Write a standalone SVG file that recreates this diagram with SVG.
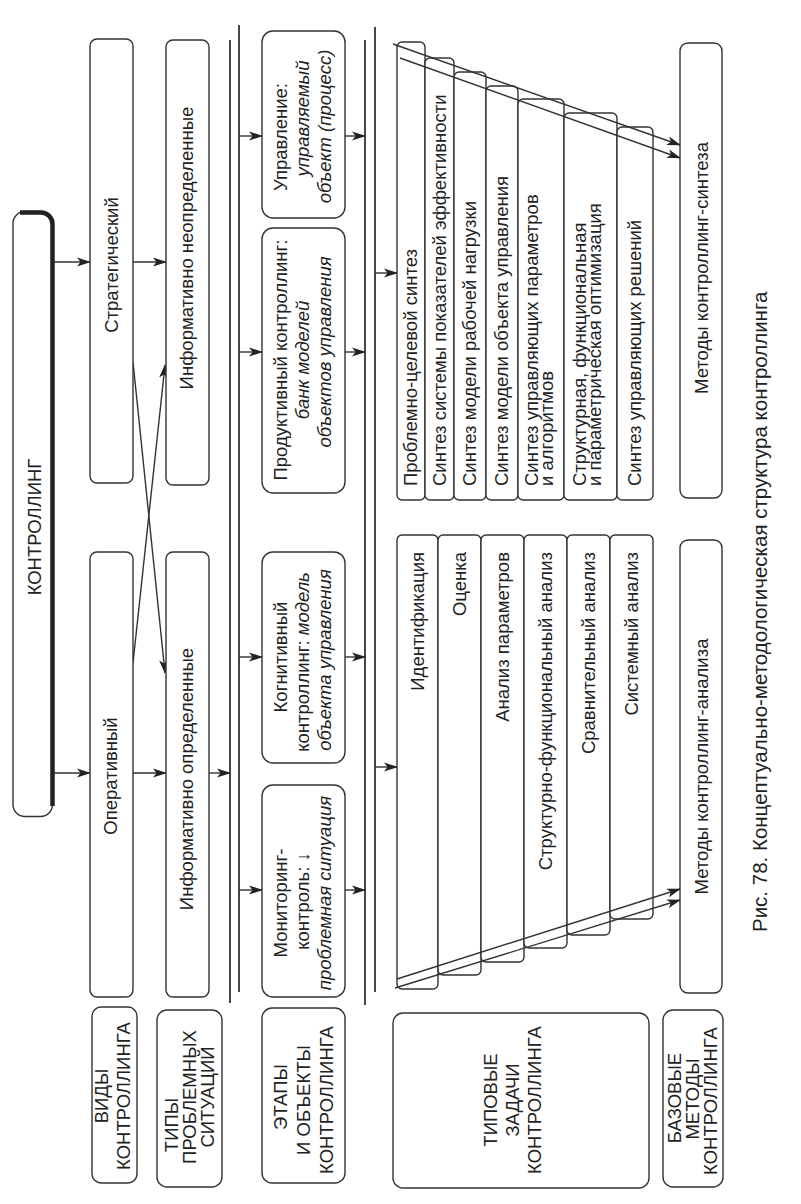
<svg xmlns="http://www.w3.org/2000/svg" width="801" height="1204" viewBox="0 0 801 1204">
<style>
.b{fill:#fff;stroke:#333;stroke-width:1.4}
.t{font-family:"Liberation Sans",Arial,sans-serif;font-size:18.5px;fill:#222}
.i{font-style:italic}
.c{text-anchor:middle}
.e{text-anchor:end}
.ln{stroke:#333;stroke-width:1.4;fill:none}
.dl{stroke:#333;stroke-width:1.8;fill:none}
.cap{font-family:"Liberation Sans",Arial,sans-serif;font-size:20.5px;fill:#222}
</style>
<defs>
<marker id="ah" viewBox="0 0 14 10" refX="13" refY="5" markerWidth="14" markerHeight="10" markerUnits="userSpaceOnUse" orient="auto"><path d="M0,0.5 L14,5 L0,9.5 L3.5,5 z" fill="#222"/></marker>
</defs>
<rect width="801" height="1204" fill="#fff"/>

<g id="connectors">
<line class="dl" x1="230" y1="40" x2="230" y2="1003"/>
<line class="dl" x1="239" y1="25" x2="239" y2="992"/>
<line class="dl" x1="365" y1="40" x2="365" y2="1005"/>
<line class="dl" x1="375" y1="27" x2="375" y2="992"/>
<g class="ln" marker-end="url(#ah)">
<line x1="54" y1="262" x2="90" y2="262"/>
<line x1="54" y1="773" x2="90" y2="773"/>
<line x1="133" y1="262" x2="166" y2="262"/>
<line x1="133" y1="773" x2="166" y2="773"/>
<line x1="133" y1="663" x2="165" y2="365"/>
<line x1="133" y1="362" x2="165" y2="673"/>
<line x1="209" y1="773" x2="230" y2="773"/>
<line x1="239" y1="136" x2="262" y2="136"/>
<line x1="239" y1="352" x2="262" y2="352"/>
<line x1="239" y1="657" x2="262" y2="657"/>
<line x1="239" y1="890" x2="262" y2="890"/>
<line x1="345" y1="136" x2="365" y2="136"/>
<line x1="345" y1="352" x2="365" y2="352"/>
<line x1="345" y1="657" x2="365" y2="657"/>
<line x1="345" y1="890" x2="365" y2="890"/>
<line x1="375" y1="273" x2="397" y2="273"/>
<line x1="375" y1="767" x2="397" y2="767"/>
</g>
</g>

<g id="kontrolling">
<rect class="b" x="13" y="211.5" width="39.5" height="605" rx="12"/>
<path d="M20,212.5 H41 A11.5,11.5 0 0 1 52.5,224 V806" fill="none" stroke="#222" stroke-width="4.5"/>
<text class="t c" x="40.5" y="527" transform="rotate(-90 40.5 527)">КОНТРОЛЛИНГ</text>
</g>

<g id="strategic">
<rect class="b" x="90" y="39" width="43" height="444" rx="7"/>
<text class="t c" x="118" y="265" transform="rotate(-90 118 265)">Стратегический</text>
</g>
<g id="operative">
<rect class="b" x="90" y="552" width="43" height="445" rx="7"/>
<text class="t c" x="117" y="776" transform="rotate(-90 117 776)">Оперативный</text>
</g>
<g id="info-uncertain">
<rect class="b" x="166" y="40" width="43" height="445" rx="7"/>
<text class="t c" x="193" y="248" transform="rotate(-90 193 248)">Информативно неопределенные</text>
</g>
<g id="info-certain">
<rect class="b" x="166" y="552" width="43" height="445" rx="7"/>
<text class="t c" x="193" y="779" transform="rotate(-90 193 779)">Информативно определенные</text>
</g>

<g id="stage-control">
<rect class="b" x="262" y="31" width="83" height="187" rx="11"/>
<text class="t c" x="287" y="137" transform="rotate(-90 287 137)">Управление:</text>
<text class="t c i" x="309" y="118.5" transform="rotate(-90 309 118.5)">управляемый</text>
<text class="t c i" x="331" y="126.5" transform="rotate(-90 331 126.5)">объект (процесс)</text>
</g>
<g id="stage-productive">
<rect class="b" x="262" y="228" width="83" height="265" rx="11"/>
<text class="t c" x="287" y="360" transform="rotate(-90 287 360)">Продуктивный контроллинг:</text>
<text class="t c i" x="309" y="360" transform="rotate(-90 309 360)">банк моделей</text>
<text class="t c i" x="331" y="352" transform="rotate(-90 331 352)">объектов управления</text>
</g>
<g id="stage-cognitive">
<rect class="b" x="262" y="552" width="83" height="211" rx="11"/>
<text class="t c" x="287" y="657" transform="rotate(-90 287 657)">Когнитивный</text>
<text class="t c" x="309" y="662" transform="rotate(-90 309 662)">контроллинг: <tspan class="i">модель</tspan></text>
<text class="t c i" x="331" y="660" transform="rotate(-90 331 660)">объекта управления</text>
</g>
<g id="stage-monitoring">
<rect class="b" x="262" y="785" width="83" height="212" rx="11"/>
<text class="t c" x="287" y="903" transform="rotate(-90 287 903)">Мониторинг-</text>
<text class="t c" x="309" y="901" transform="rotate(-90 309 901)">контроль: ↓</text>
<text class="t c i" x="331" y="893" transform="rotate(-90 331 893)">проблемная ситуация</text>
</g>

<g id="synthesis-tasks">
<g id="syn1"><rect class="b" x="397" y="42" width="28" height="458" rx="5"/>
<text class="t" x="417" y="486" transform="rotate(-90 417 486)">Проблемно-целевой синтез</text></g>
<g id="syn2"><rect class="b" x="425" y="58" width="29" height="442" rx="5"/>
<text class="t" x="446" y="486" transform="rotate(-90 446 486)">Синтез системы показателей эффективности</text></g>
<g id="syn3"><rect class="b" x="454" y="72" width="32" height="428" rx="5"/>
<text class="t" x="476" y="486" transform="rotate(-90 476 486)">Синтез модели рабочей нагрузки</text></g>
<g id="syn4"><rect class="b" x="486" y="86" width="32" height="414" rx="5"/>
<text class="t" x="508" y="486" transform="rotate(-90 508 486)">Синтез модели объекта управления</text></g>
<g id="syn5"><rect class="b" x="518" y="99" width="46" height="401" rx="5"/>
<text class="t" x="538" y="486" transform="rotate(-90 538 486)">Синтез управляющих параметров</text>
<text class="t" x="553" y="486" transform="rotate(-90 553 486)">и алгоритмов</text></g>
<g id="syn6"><rect class="b" x="564" y="113" width="53" height="387" rx="5"/>
<text class="t" x="586" y="486" transform="rotate(-90 586 486)">Структурная, функциональная</text>
<text class="t" x="601" y="486" transform="rotate(-90 601 486)">и параметрическая оптимизация</text></g>
<g id="syn7"><rect class="b" x="617" y="127" width="36" height="373" rx="5"/>
<text class="t" x="641" y="486" transform="rotate(-90 641 486)">Синтез управляющих решений</text></g>
</g>

<g id="analysis-tasks">
<g id="an1"><rect class="b" x="397" y="535" width="41" height="454" rx="5"/>
<text class="t e" x="424" y="552" transform="rotate(-90 424 552)">Идентификация</text></g>
<g id="an2"><rect class="b" x="438" y="535" width="43" height="440" rx="5"/>
<text class="t e" x="466" y="552" transform="rotate(-90 466 552)">Оценка</text></g>
<g id="an3"><rect class="b" x="481" y="535" width="43" height="427" rx="5"/>
<text class="t e" x="509" y="552" transform="rotate(-90 509 552)">Анализ параметров</text></g>
<g id="an4"><rect class="b" x="524" y="535" width="43" height="413" rx="5"/>
<text class="t e" x="552" y="552" transform="rotate(-90 552 552)">Структурно-функциональный анализ</text></g>
<g id="an5"><rect class="b" x="567" y="535" width="43" height="400" rx="5"/>
<text class="t e" x="595" y="552" transform="rotate(-90 595 552)">Сравнительный анализ</text></g>
<g id="an6"><rect class="b" x="610" y="535" width="43" height="384" rx="5"/>
<text class="t e" x="638" y="552" transform="rotate(-90 638 552)">Системный анализ</text></g>
</g>

<g id="diagonals" class="ln" marker-end="url(#ah)">
<line x1="393" y1="44" x2="680" y2="145"/>
<line x1="400" y1="58" x2="680" y2="158"/>
<line x1="397" y1="979" x2="680" y2="889"/>
<line x1="395" y1="988" x2="680" y2="900"/>
</g>

<g id="methods-synthesis">
<rect class="b" x="680" y="43" width="42" height="455" rx="8"/>
<text class="t c" x="708" y="268" transform="rotate(-90 708 268)">Методы контроллинг-синтеза</text>
</g>
<g id="methods-analysis">
<rect class="b" x="680" y="540" width="42" height="453" rx="8"/>
<text class="t c" x="708" y="766.5" transform="rotate(-90 708 766.5)">Методы контроллинг-анализа</text>
</g>

<g id="label-types">
<rect class="b" x="92" y="1007" width="45" height="176" rx="9"/>
<text class="t c" x="108" y="1096" transform="rotate(-90 108 1096)">ВИДЫ</text>
<text class="t c" x="130" y="1096" transform="rotate(-90 130 1096)">КОНТРОЛЛИНГА</text>
</g>
<g id="label-situations">
<rect class="b" x="157" y="1010" width="65" height="177" rx="10"/>
<text class="t c" x="178" y="1125" transform="rotate(-90 178 1125)">ТИПЫ</text>
<text class="t c" x="196" y="1097" transform="rotate(-90 196 1097)">ПРОБЛЕМНЫХ</text>
<text class="t c" x="214" y="1097" transform="rotate(-90 214 1097)">СИТУАЦИЙ</text>
</g>
<g id="label-stages">
<rect class="b" x="262" y="1008" width="83" height="175" rx="10"/>
<text class="t c" x="287" y="1097" transform="rotate(-90 287 1097)">ЭТАПЫ</text>
<text class="t c" x="310" y="1100" transform="rotate(-90 310 1100)">И ОБЪЕКТЫ</text>
<text class="t c" x="333" y="1100" transform="rotate(-90 333 1100)">КОНТРОЛЛИНГА</text>
</g>
<g id="label-tasks">
<rect class="b" x="393" y="1013" width="256" height="175" rx="10"/>
<text class="t c" x="497" y="1100" transform="rotate(-90 497 1100)">ТИПОВЫЕ</text>
<text class="t c" x="519" y="1100" transform="rotate(-90 519 1100)">ЗАДАЧИ</text>
<text class="t c" x="541" y="1100" transform="rotate(-90 541 1100)">КОНТРОЛЛИНГА</text>
</g>
<g id="label-methods">
<rect class="b" x="663" y="1010" width="60" height="177" rx="10"/>
<text class="t c" x="681" y="1098" transform="rotate(-90 681 1098)">БАЗОВЫЕ</text>
<text class="t c" x="699" y="1099" transform="rotate(-90 699 1099)">МЕТОДЫ</text>
<text class="t c" x="717" y="1101" transform="rotate(-90 717 1101)">КОНТРОЛЛИНГА</text>
</g>

<text class="cap" x="767" y="932" transform="rotate(-90 767 932)">Рис. 78. Концептуально-методологическая структура контроллинга</text>
</svg>
